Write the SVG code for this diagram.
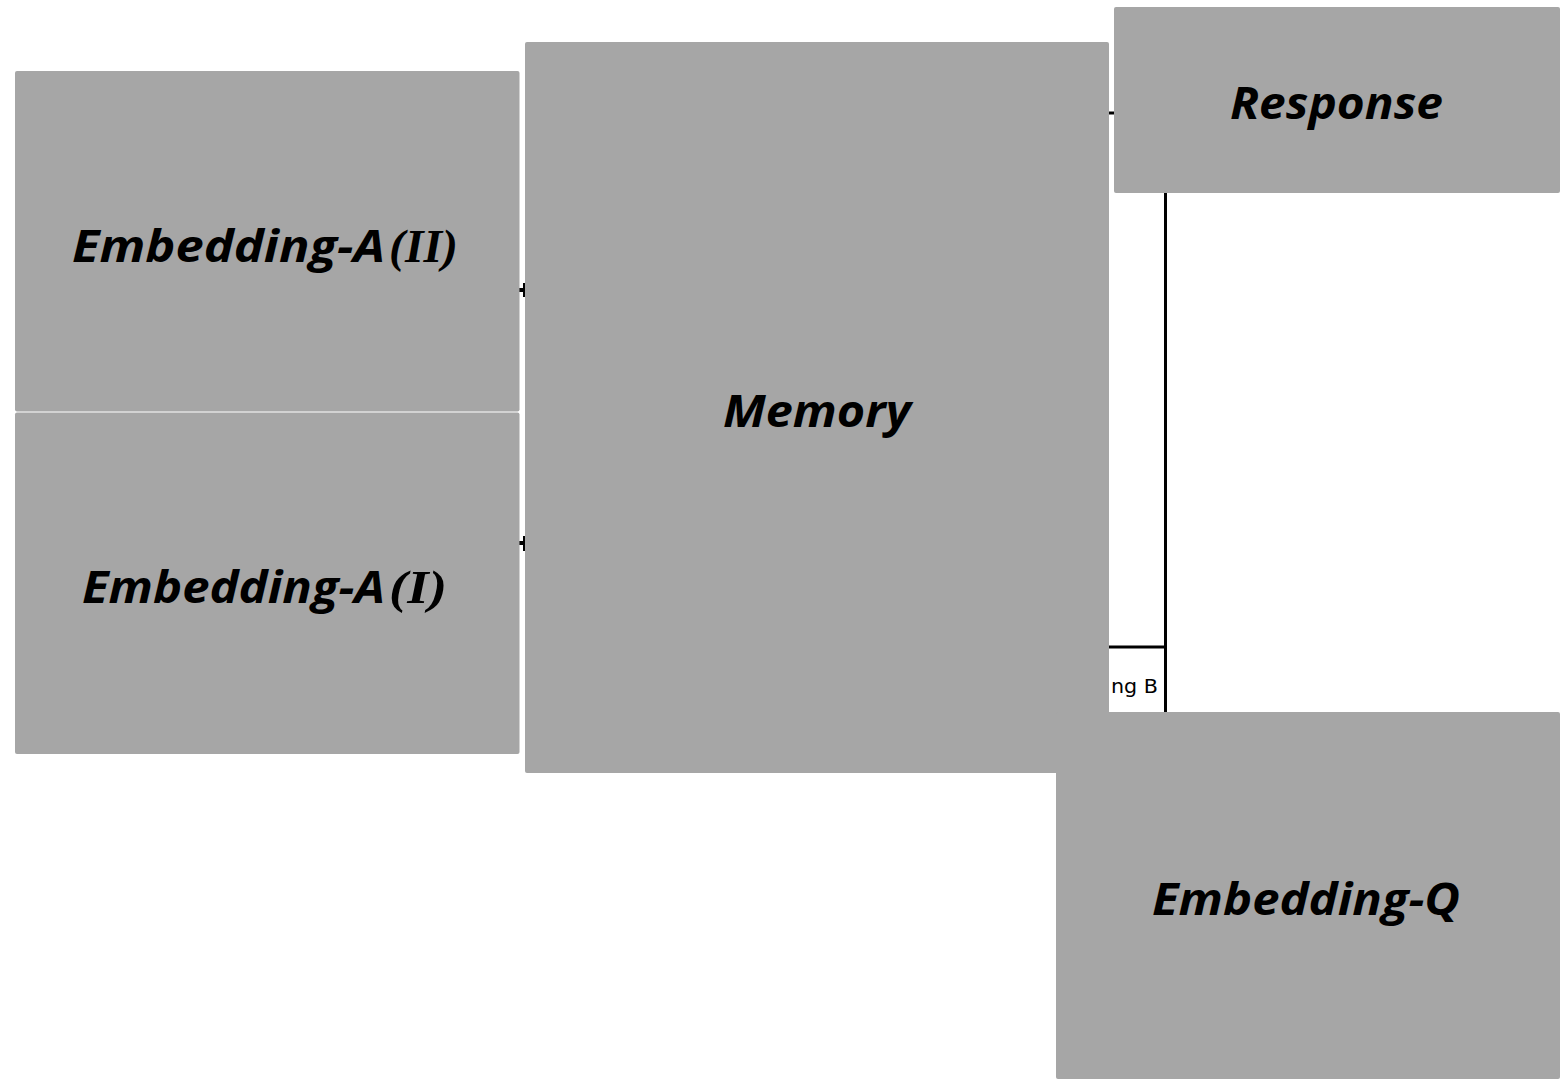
<svg xmlns="http://www.w3.org/2000/svg" width="1560" height="1079" viewBox="0 0 1560 1079">
<style>
.box{fill:#a6a6a6;}
.lbl{font-family:"Open Sans","Noto Sans",sans-serif;font-weight:bold;font-style:italic;font-size:44px;fill:#000;}
.rom{font-family:"Liberation Serif",serif;font-weight:bold;font-style:italic;font-size:46px;fill:#000;}
.ln{stroke:#000;stroke-width:3;fill:none;}
.small{font-family:"DejaVu Sans","Liberation Sans",sans-serif;font-size:19px;fill:#000;}
</style>
<rect width="1560" height="1079" fill="#fff"/>
<g id="connectors">
<line class="ln" x1="1165.5" y1="190" x2="1165.5" y2="715"/>
<line class="ln" x1="1105" y1="647" x2="1165.5" y2="647"/>
<line class="ln" x1="1105" y1="113" x2="1118" y2="113"/>
<path d="M519 288 H523 V283 H525.5 V297 H523 V292 H519 Z" fill="#000"/>
<path d="M519 541 H523 V536 H525.5 V551 H523 V545 H519 Z" fill="#000"/>
<text class="small" x="1111" y="693" textLength="47" lengthAdjust="spacingAndGlyphs">ng B</text>
</g>
<g id="embedding-a-ii">
<rect class="box" x="15" y="71" width="504.5" height="340.5" rx="2"/>
<text class="lbl" x="72" y="262" textLength="313" lengthAdjust="spacingAndGlyphs">Embedding-A</text>
<text class="rom" x="389" y="262" textLength="69" lengthAdjust="spacingAndGlyphs">(II)</text>
</g>
<g id="embedding-a-i">
<rect class="box" x="15" y="412.5" width="504.5" height="341.5" rx="2"/>
<text class="lbl" x="82" y="603" textLength="303" lengthAdjust="spacingAndGlyphs">Embedding-A</text>
<text class="rom" x="389" y="603" textLength="58" lengthAdjust="spacingAndGlyphs">(I)</text>
</g>
<g id="memory">
<rect class="box" x="525" y="42" width="584" height="731" rx="2"/>
<text class="lbl" x="723" y="427" textLength="188" lengthAdjust="spacingAndGlyphs">Memory</text>
</g>
<g id="response">
<rect class="box" x="1114" y="7" width="446" height="186" rx="2"/>
<text class="lbl" x="1230" y="119" textLength="213" lengthAdjust="spacingAndGlyphs">Response</text>
</g>
<g id="embedding-q">
<rect class="box" x="1056" y="712" width="504" height="367" rx="2"/>
<text class="lbl" x="1152" y="915" textLength="308" lengthAdjust="spacingAndGlyphs">Embedding-Q</text>
</g>
</svg>
